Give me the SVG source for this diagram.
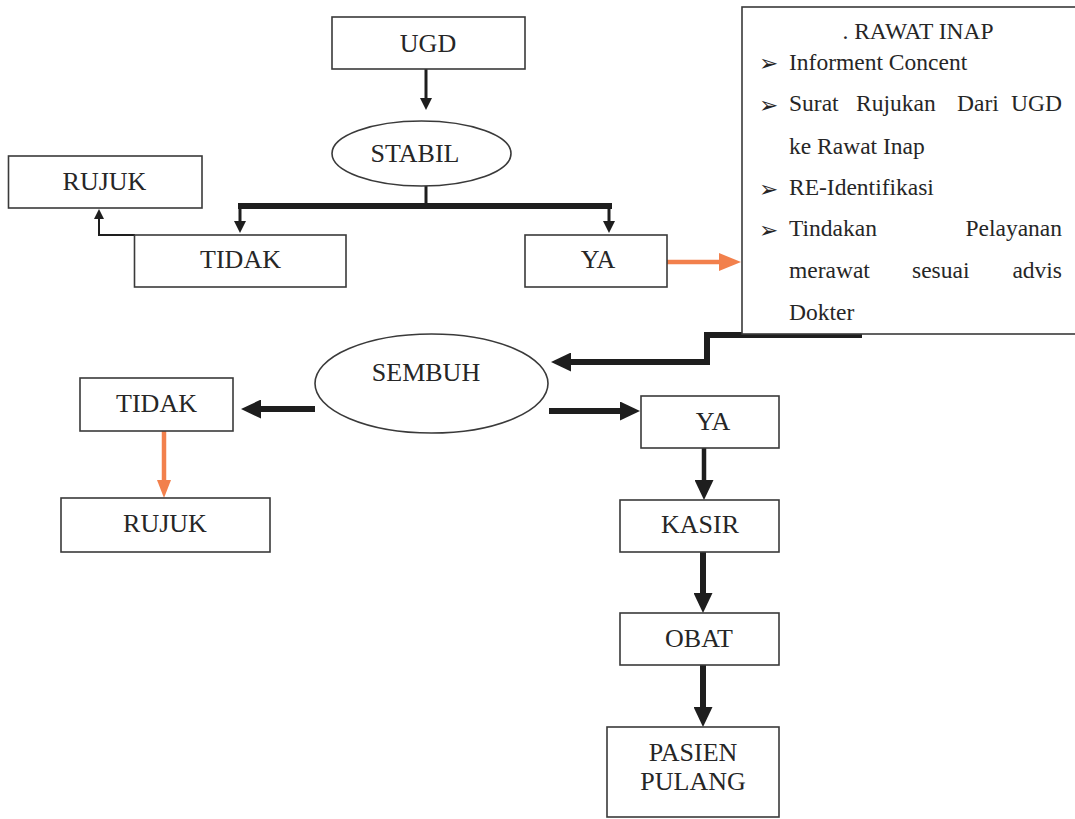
<svg xmlns="http://www.w3.org/2000/svg" width="1075" height="819" viewBox="0 0 1075 819">
<style>
.box{fill:#fff;stroke:#3a3a3a;stroke-width:1.6}
.lbl{font-family:"Liberation Serif","Times New Roman",serif;font-size:26px;fill:#262626;text-anchor:middle}
.ri{font-family:"Liberation Serif","Times New Roman",serif;font-size:23.5px;fill:#262626}
.bul{font-family:"DejaVu Sans",sans-serif;font-size:23px;fill:#262626}
.c{fill:none;stroke:#1e1e1e;stroke-linejoin:miter}
.thin{stroke-width:3}
.hair{stroke-width:2}
.bar{stroke-width:6}
.thick{stroke-width:6}
.mid{stroke-width:4.5}
.or{fill:none;stroke:#f2804c;stroke-width:4.5}
</style>
<defs>
<marker id="mThin" markerUnits="userSpaceOnUse" markerWidth="12" markerHeight="12" refX="0" refY="6" orient="auto"><path d="M0,0 L12,6 L0,12 z" fill="#1e1e1e"/></marker>
<marker id="mTiny" markerUnits="userSpaceOnUse" markerWidth="10" markerHeight="10" refX="0" refY="5" orient="auto"><path d="M0,0 L10,5 L0,10 z" fill="#1e1e1e"/></marker>
<marker id="mThick" markerUnits="userSpaceOnUse" markerWidth="20" markerHeight="19" refX="0" refY="9.5" orient="auto"><path d="M0,0 L20,9.5 L0,19 z" fill="#1e1e1e"/></marker>
<marker id="mOr" markerUnits="userSpaceOnUse" markerWidth="22" markerHeight="18" refX="0" refY="9" orient="auto"><path d="M0,0 L22,9 L0,18 z" fill="#f2804c"/></marker>
<marker id="mOr2" markerUnits="userSpaceOnUse" markerWidth="18" markerHeight="14" refX="0" refY="7" orient="auto"><path d="M0,0 L18,7 L0,14 z" fill="#f2804c"/></marker>
</defs>

<g id="connectors">
<path class="c thin" d="M426,69 V98" marker-end="url(#mThin)"/>
<path class="c thin" d="M426,186 V205"/>
<path class="c bar" d="M238,206 H612"/>
<path class="c thin" d="M240,206 V221" marker-end="url(#mThin)"/>
<path class="c thin" d="M609,206 V221" marker-end="url(#mThin)"/>
<path class="c hair" d="M135,235 H99 V219" marker-end="url(#mTiny)"/>
<path class="or" d="M667,262 H719" marker-end="url(#mOr)"/>
<path class="c thick" d="M862,335 H707 V362 H571" marker-end="url(#mThick)"/>
<path class="c thick" d="M315,409 H261" marker-end="url(#mThick)"/>
<path class="c thick" d="M549,411 H620" marker-end="url(#mThick)"/>
<path class="or" d="M164,431 V480" marker-end="url(#mOr2)"/>
<path class="c mid" d="M704,448 V480" marker-end="url(#mThick)"/>
<path class="c thick" d="M703,552 V593" marker-end="url(#mThick)"/>
<path class="c thick" d="M703,665 V707" marker-end="url(#mThick)"/>
</g>

<g id="ugd"><rect class="box" x="332" y="17" width="193" height="52"/><text class="lbl" x="428" y="52">UGD</text></g>
<g id="stabil"><ellipse class="box" cx="421.5" cy="153.5" rx="89.5" ry="32.5"/><text class="lbl" x="415" y="162">STABIL</text></g>
<g id="rujuk1"><rect class="box" x="8.5" y="156" width="193.5" height="52"/><text class="lbl" x="104.5" y="190">RUJUK</text></g>
<g id="tidak1"><rect class="box" x="134.5" y="235" width="211.5" height="52"/><text class="lbl" x="240.5" y="268">TIDAK</text></g>
<g id="ya1"><rect class="box" x="525" y="235" width="142" height="52"/><text class="lbl" x="598" y="268">YA</text></g>

<g id="rawat-inap">
<rect class="box" x="742" y="7" width="340" height="327"/>
<text class="ri" x="918" y="39" text-anchor="middle">. RAWAT INAP</text>
<text class="bul" x="759" y="71">➢</text>
<text class="ri" x="789" y="70">Informent Concent</text>
<text class="bul" x="759" y="113">➢</text>
<text class="ri" x="789" y="111">Surat</text>
<text class="ri" x="856" y="111">Rujukan</text>
<text class="ri" x="957" y="111">Dari</text>
<text class="ri" x="1062" y="111" text-anchor="end">UGD</text>
<text class="ri" x="789" y="154">ke Rawat Inap</text>
<text class="bul" x="759" y="197">➢</text>
<text class="ri" x="789" y="195">RE-Identifikasi</text>
<text class="bul" x="759" y="238">➢</text>
<text class="ri" x="789" y="236">Tindakan</text>
<text class="ri" x="1062" y="236" text-anchor="end">Pelayanan</text>
<text class="ri" x="789" y="278">merawat</text>
<text class="ri" x="912" y="278">sesuai</text>
<text class="ri" x="1062" y="278" text-anchor="end">advis</text>
<text class="ri" x="789" y="320">Dokter</text>
</g>

<g id="sembuh"><ellipse class="box" cx="431.5" cy="383.5" rx="116.5" ry="49.5"/><text class="lbl" x="426" y="381">SEMBUH</text></g>
<g id="tidak2"><rect class="box" x="80" y="378" width="153" height="53"/><text class="lbl" x="156.5" y="412">TIDAK</text></g>
<g id="rujuk2"><rect class="box" x="61" y="498" width="209" height="54"/><text class="lbl" x="165" y="532">RUJUK</text></g>
<g id="ya2"><rect class="box" x="641" y="396" width="138" height="52"/><text class="lbl" x="713" y="430">YA</text></g>
<g id="kasir"><rect class="box" x="620" y="500" width="159" height="52"/><text class="lbl" x="700" y="533">KASIR</text></g>
<g id="obat"><rect class="box" x="620" y="613" width="159" height="52"/><text class="lbl" x="699" y="647">OBAT</text></g>
<g id="pasien-pulang"><rect class="box" x="607" y="727" width="172" height="90"/><text class="lbl" x="693" y="761">PASIEN</text><text class="lbl" x="693" y="790">PULANG</text></g>
</svg>
